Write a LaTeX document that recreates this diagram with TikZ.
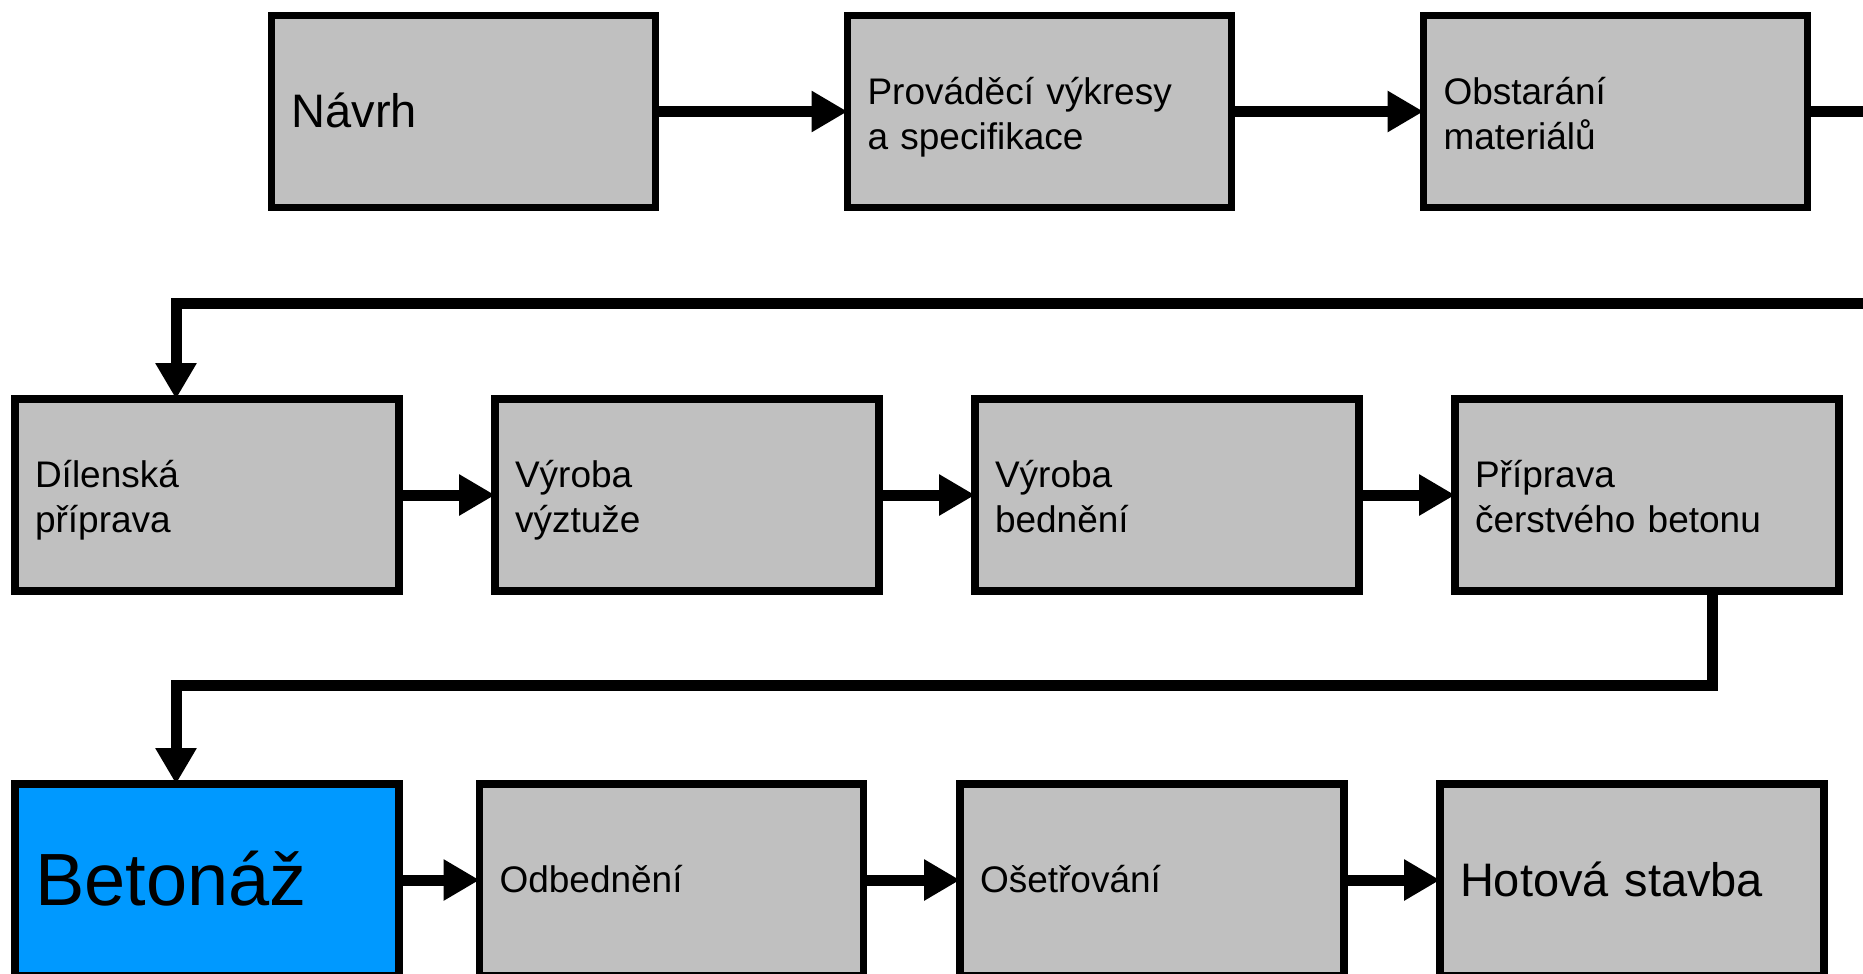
\documentclass[tikz,border=0pt]{standalone}
\usepackage{fontspec}
\setmainfont{Liberation Sans}
\usetikzlibrary{arrows.meta,calc}
\definecolor{boxgray}{HTML}{C0C0C0}
\definecolor{betblue}{HTML}{0099FF}
\newcommand\linestrut{\rule[-0.212em]{0pt}{1.117em}}
\newcommand\toplinestrut{\rule[-0.212em]{0pt}{1.25em}}
\begin{document}
\begin{tikzpicture}[x=1pt,y=-1pt,
  stepbox/.style={draw=black, line width=7.5pt, fill=boxgray, rectangle,
    minimum width=384pt, minimum height=192pt, text width=344pt,
    inner xsep=20pt, inner ysep=0pt, align=left, outer sep=0pt,
    font=\fontsize{37}{45}\selectfont,
    execute at begin node=\linestrut, execute at end node=\linestrut},
  twoline/.style={execute at begin node=\toplinestrut},
  bigtext/.style={font=\fontsize{47}{56}\selectfont},
  hugetext/.style={font=\fontsize{74}{88}\selectfont},
  conn/.style={line width=11pt, -{Triangle[length=36pt,width=39pt]}, line join=miter},
]
\useasboundingbox (0,0) rectangle (1863,974);
\clip (0,0) rectangle (1863,974);
\fill[white] (0,0) rectangle (1863,974);

% row 1
\node[stepbox, bigtext] (navrh) at (463.5,111.5) {Návrh};
\node[stepbox, twoline] (prov) at (1039.5,111.5) {Prováděcí výkresy\\a specifikace};
\node[stepbox, twoline] (obst) at (1615.5,111.5) {Obstarání\\materiálů};

% row 2
\node[stepbox, twoline] (dil) at (207,495) {Dílenská\\příprava};
\node[stepbox, twoline] (vyzt) at (687,495) {Výroba\\výztuže};
\node[stepbox, twoline] (bedn) at (1167,495) {Výroba\\bednění};
\node[stepbox, twoline] (prip) at (1647,495) {Příprava\\čerstvého betonu};

% row 3
\node[stepbox, hugetext, fill=betblue] (bet) at (207,880) {Betonáž};
\node[stepbox] (odb) at (671.5,880) {Odbednění};
\node[stepbox] (oset) at (1152,880) {Ošetřování};
\node[stepbox, bigtext] (hot) at (1632,880) {Hotová stavba};

\coordinate (offR) at (1900,0);

% connectors
\draw[conn] (navrh) -- (prov);
\draw[conn] (prov) -- (obst);
\draw[conn] (obst.east) -- (obst.east -| offR) -- ($(obst.east -| offR)+(0,191.5)$)
  -| ($(dil.north)+(-31,0)$);
\draw[conn] (dil) -- (vyzt);
\draw[conn] (vyzt) -- (bedn);
\draw[conn] (bedn) -- (prip);
\draw[conn] ($(prip.south)+(65,0)$) -- ++(0,94) -| ($(bet.north)+(-31,0)$);
\draw[conn] (bet) -- (odb);
\draw[conn] (odb) -- (oset);
\draw[conn] (oset) -- (hot);
\end{tikzpicture}
\end{document}
